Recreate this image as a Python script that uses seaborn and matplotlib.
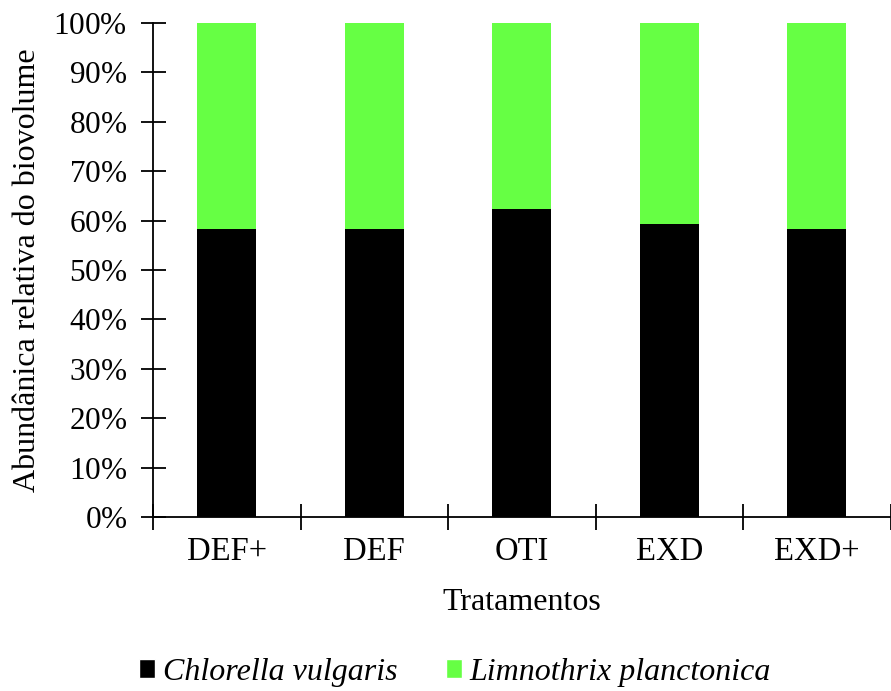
import matplotlib
matplotlib.use("Agg")
import matplotlib.pyplot as plt
import seaborn as sns
import pandas as pd
from matplotlib.patches import Patch

categories = ["DEF+", "DEF", "OTI", "EXD", "EXD+"]
chlorella = [58.3, 58.3, 62.3, 59.4, 58.3]
limnothrix = [41.7, 41.7, 37.7, 40.6, 41.7]
series_names = ["Chlorella vulgaris", "Limnothrix planctonica"]
yticks = [0, 10, 20, 30, 40, 50, 60, 70, 80, 90, 100]

sns.set_style("white")
plt.rcParams["font.family"] = ["Liberation Serif", "DejaVu Serif"]
plt.rcParams["mathtext.fontset"] = "custom"
plt.rcParams["mathtext.it"] = "Liberation Serif:italic"
plt.rcParams["mathtext.rm"] = "Liberation Serif"
plt.rcParams["text.color"] = "black"
plt.rcParams["axes.labelcolor"] = "black"
plt.rcParams["xtick.color"] = "black"
plt.rcParams["ytick.color"] = "black"

df = pd.DataFrame({"cat": categories,
                   "c": chlorella,
                   "total": [a + b for a, b in zip(chlorella, limnothrix)]})

fig = plt.figure(figsize=(8.91, 6.91), dpi=100)
ax = fig.add_axes([0.1717, 0.2518, 0.828, 0.715])

sns.barplot(data=df, x="cat", y="total", color="#66ff44", width=0.4,
            saturation=1, ax=ax, order=categories, linewidth=0)
sns.barplot(data=df, x="cat", y="c", color="#000000", width=0.4,
            saturation=1, ax=ax, order=categories, linewidth=0)

ax.set_xlim(-0.5, len(categories) - 0.5)
ax.set_ylim(0, 100)
ax.set_yticks(yticks)
ax.set_yticklabels([f"{v}$\\mathit{{\\%}}$" for v in yticks], fontsize=22.5)
ax.set_xticks(range(len(categories)))
ax.set_xticklabels(categories, fontsize=23.5)
ax.tick_params(axis="x", which="major", length=0, pad=14, bottom=True)
ax.set_xticks([i - 0.5 for i in range(len(categories) + 1)], minor=True)
ax.tick_params(axis="x", which="minor", direction="inout", length=19, width=1.3,
               color="black", bottom=True)
ax.tick_params(axis="y", direction="inout", length=18, width=1.3, color="black",
               pad=9.5, left=True)

for s in ["top", "right"]:
    ax.spines[s].set_visible(False)
for s in ["left", "bottom"]:
    ax.spines[s].set_color("black")
    ax.spines[s].set_linewidth(1.3)

ax.set_xlabel("Tratamentos", fontsize=23, labelpad=15)
ax.set_ylabel("Abundânica relativa do biovolume", fontsize=23, labelpad=8.5)

handles = [Patch(facecolor="#000000", label=series_names[0]),
           Patch(facecolor="#66ff44", label=series_names[1])]
fig.legend(handles=handles, loc="center", bbox_to_anchor=(0.511, 0.027), ncol=2,
           frameon=False, prop={"family": "Liberation Serif", "style": "italic", "size": 23},
           handlelength=0.5, handleheight=0.5, handletextpad=0.25, columnspacing=1.5)

fig.savefig("out.png", dpi=100)
